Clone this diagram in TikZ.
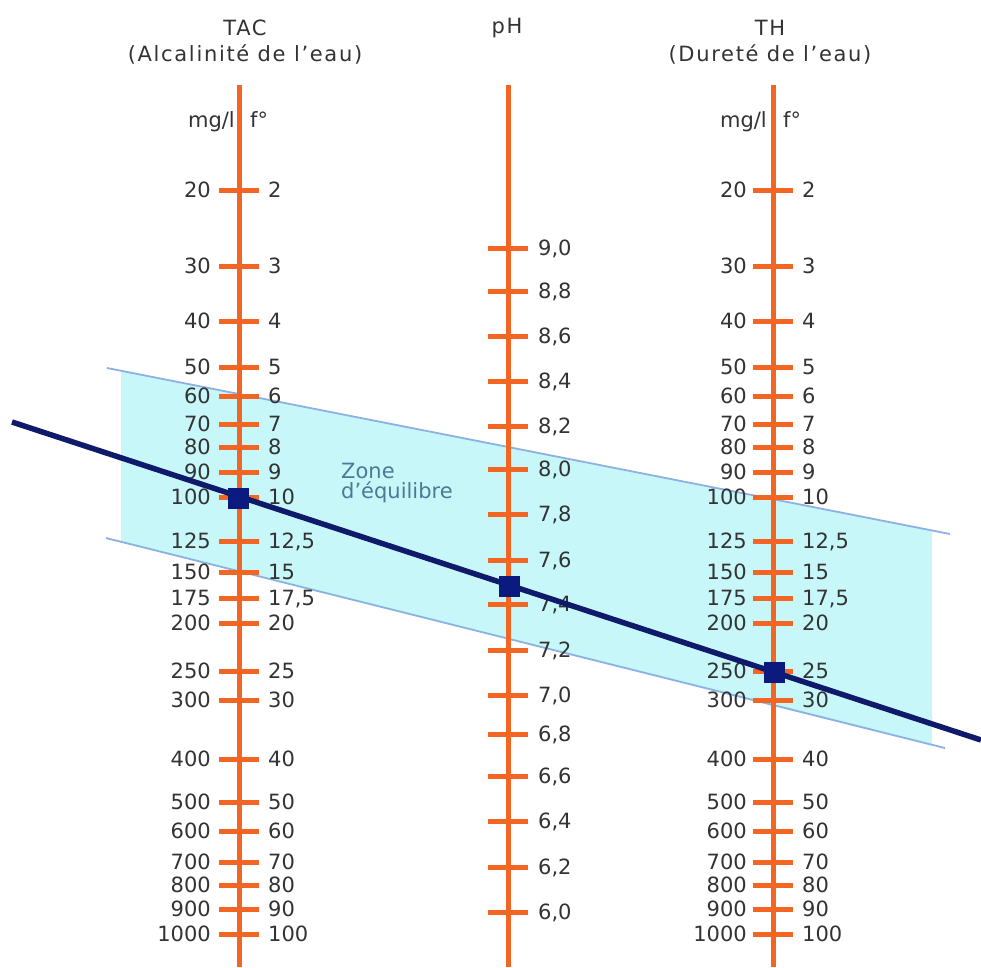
\documentclass[tikz,border=0pt]{standalone}
\usepackage{fontspec}
\setmainfont{DejaVu Sans}
\newfontfamily\titlefont[LetterSpace=8]{DejaVu Sans}
\definecolor{axo}{HTML}{F26522}
\definecolor{txt}{HTML}{333333}
\definecolor{zonefill}{HTML}{C8F7FA}
\definecolor{zoneline}{HTML}{8DB1E2}
\definecolor{navyline}{HTML}{0F1B6A}
\definecolor{navysq}{HTML}{0B1A7E}
\definecolor{zonetxt}{HTML}{4F7896}
\newcommand\numfont{\fontsize{21}{25}\selectfont}
\begin{document}
\begin{tikzpicture}[x=1pt,y=-1pt,
  axisline/.style={draw=axo,line width=5pt},
  tickmark/.style={draw=axo,line width=5pt},
  numlbl/.style={font=\numfont, text=txt, inner sep=0pt, text height=15.3pt, text depth=0pt},
  unitlbl/.style={font=\numfont, text=txt, inner sep=0pt},
  titlelbl/.style={font=\titlefont\numfont, text=txt, inner sep=0pt},
  zonelbl/.style={font=\numfont, text=zonetxt, inner sep=0pt},
  bandline/.style={draw=zoneline, line width=1.8pt},
  mainline/.style={draw=navyline, line width=5.5pt},
  marker/.style={fill=navysq, draw=none, minimum size=21pt, inner sep=0pt, rectangle}]
\useasboundingbox[fill=white] (0,0) rectangle (981,967);

% equilibrium zone
\fill[zonefill] (121,371) -- (932,531) -- (932,746) -- (121,542) -- cycle;
\coordinate (bandUA) at (107,368);
\coordinate (bandUB) at (950,534);
\coordinate (bandLA) at (106,538);
\coordinate (bandLB) at (945,748);
\draw[bandline] (bandUA) -- (bandUB);
\draw[bandline] (bandLA) -- (bandLB);

% titles
\node[titlelbl, anchor=base] (tacT) at (245,35) {TAC};
\node[titlelbl, anchor=base] (tacS) at (245,61) {(Alcalinité de l’eau)};
\node[titlelbl, anchor=base] (phT) at (507,33) {pH};
\node[titlelbl, anchor=base] (thT) at (770,35) {TH};
\node[titlelbl, anchor=base] (thS) at (770,61) {(Dureté de l’eau)};

% axes
\coordinate (tacTop) at (239,85);
\coordinate (tacBot) at (239,967);
\coordinate (phTop) at (508,85);
\coordinate (phBot) at (508,967);
\coordinate (thTop) at (773,85);
\coordinate (thBot) at (773,967);
\draw[axisline] (tacTop) -- (tacBot);
\draw[axisline] (phTop) -- (phBot);
\draw[axisline] (thTop) -- (thBot);

% unit labels
\node[unitlbl, anchor=base east] (tacMg) at (235,127) {mg/l};
\node[unitlbl, anchor=base west] (tacF) at (250,127) {f°};
\node[unitlbl, anchor=base east] (thMg) at (767,127) {mg/l};
\node[unitlbl, anchor=base west] (thF) at (783,127) {f°};

% TAC and TH scales
\foreach \y/\a/\b [count=\i] in {190/20/2, 266/30/3, 321/40/4, 367/50/5, 396/60/6,
   424/70/7, 447/80/8, 472/90/9, 497/100/10, 541/125/{12,5}, 572/150/15,
   598/175/{17,5}, 623/200/20, 671/250/25, 700/300/30, 759/400/40, 802/500/50,
   831/600/60, 862/700/70, 885/800/80, 909/900/90, 934/1000/100} {
  \draw[tickmark] (219,\y) -- (259,\y);
  \node[numlbl, anchor=east] (tacL\i) at (211,\y) {\a};
  \node[numlbl, anchor=west] (tacR\i) at (268,\y) {\b};
  \draw[tickmark] (753,\y) -- (793,\y);
  \node[numlbl, anchor=east] (thL\i) at (747,\y) {\a};
  \node[numlbl, anchor=west] (thR\i) at (802,\y) {\b};
}

% pH scale
\foreach \y/\v [count=\i] in {248/{9,0}, 291/{8,8}, 336/{8,6}, 381/{8,4}, 426/{8,2},
   469/{8,0}, 514/{7,8}, 560/{7,6}, 604/{7,4}, 650/{7,2}, 695/{7,0}, 734/{6,8},
   776/{6,6}, 821/{6,4}, 867/{6,2}, 912/{6,0}} {
  \draw[tickmark] (488,\y) -- (528,\y);
  \node[numlbl, anchor=west] (phL\i) at (538,\y) {\v};
}

% zone label
\node[zonelbl, anchor=base west] (zone1) at (341,478) {Zone};
\node[zonelbl, anchor=base west] (zone2) at (341,498) {d’équilibre};

% reading line and markers
\coordinate (lineA) at (12,422);
\coordinate (lineB) at (981,740);
\draw[mainline] (lineA) -- (lineB);
\node[marker] (mTAC) at (238.5,498) {};
\node[marker] (mPH) at (509,586) {};
\node[marker] (mTH) at (774,672) {};
\end{tikzpicture}
\end{document}
